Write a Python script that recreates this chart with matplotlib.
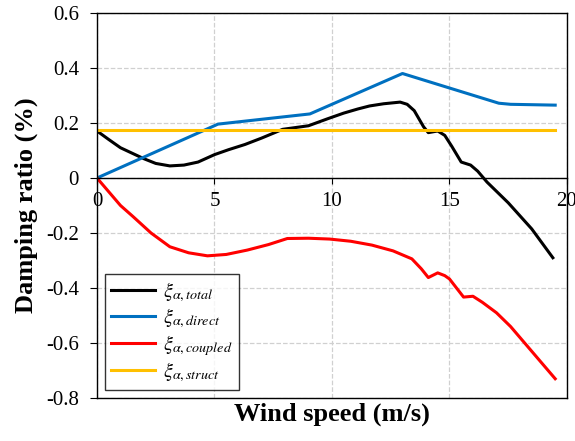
import matplotlib.pyplot as plt

plt.rcParams['font.family'] = ['Liberation Serif', 'DejaVu Serif']
plt.rcParams['mathtext.fontset'] = 'stix'

# wind speed (m/s) / damping ratio (%)
ws_total = [0, 0.5, 1.0, 1.5, 2.0, 2.5, 3.1, 3.7, 4.3, 5.0, 5.6, 6.3, 7.0, 7.9, 9.0, 9.8, 10.5,
            11.1, 11.6, 12.2, 12.9, 13.2, 13.5, 13.9, 14.1, 14.5, 14.8, 15.1, 15.5, 15.9, 16.2,
            16.6, 17.5, 18.5, 19.4]
dr_total = [0.171, 0.14, 0.11, 0.09, 0.07, 0.053, 0.044, 0.047, 0.058, 0.085, 0.103, 0.122, 0.145,
            0.177, 0.19, 0.215, 0.236, 0.251, 0.262, 0.27, 0.276, 0.268, 0.245, 0.186, 0.165,
            0.171, 0.155, 0.115, 0.058, 0.047, 0.025, -0.015, -0.09, -0.185, -0.29]

ws_direct = [0, 5.15, 9.06, 13.0, 17.1, 17.6, 19.5]
dr_direct = [0, 0.196, 0.233, 0.38, 0.272, 0.268, 0.265]

ws_coupled = [0, 0.55, 1.0, 1.53, 2.3, 3.1, 3.9, 4.7, 5.5, 6.4, 7.3, 8.1, 9.0, 9.9, 10.8, 11.7,
              12.6, 13.4, 13.8, 14.1, 14.5, 14.8, 15.0, 15.3, 15.6, 16.0, 16.4, 17.0, 17.6,
              18.1, 18.8, 19.5]
dr_coupled = [0, -0.055, -0.1, -0.14, -0.2, -0.25, -0.272, -0.283, -0.278, -0.262, -0.242, -0.22,
              -0.219, -0.222, -0.23, -0.244, -0.265, -0.294, -0.33, -0.362, -0.345, -0.355,
              -0.367, -0.4, -0.433, -0.43, -0.452, -0.49, -0.54, -0.59, -0.66, -0.73]

ws_struct = [0, 19.5]
dr_struct = [0.175, 0.175]

labels = [r'$\xi_{\alpha,total}$', r'$\xi_{\alpha,direct}$',
          r'$\xi_{\alpha,coupled}$', r'$\xi_{\alpha,struct}$']

fig = plt.figure(figsize=(5.75, 4.41), dpi=100)
ax = fig.add_axes([0.1687, 0.0975, 0.8173, 0.873])

lw = 2.2
ax.plot(ws_total, dr_total, color='black', lw=lw, label=labels[0])
ax.plot(ws_direct, dr_direct, color='#0070C0', lw=lw, label=labels[1])
ax.plot(ws_coupled, dr_coupled, color='#FF0000', lw=lw, label=labels[2])
ax.plot(ws_struct, dr_struct, color='#FFC000', lw=lw, label=labels[3])

ax.set_xlim(0, 20)
ax.set_ylim(-0.8, 0.6)
ax.set_xticks([0, 5, 10, 15, 20])
ax.set_yticks([-0.8, -0.6, -0.4, -0.2, 0, 0.2, 0.4, 0.6])
ax.set_yticklabels(['-0.8', '-0.6', '-0.4', '-0.2', '0', '0.2', '0.4', '0.6'])
ax.grid(True, color='#d0d0d0', linestyle='--', linewidth=0.9)
ax.set_axisbelow(True)

ax.spines['bottom'].set_position(('data', 0))
for s in ['left', 'top', 'right', 'bottom']:
    ax.spines[s].set_linewidth(1.0)
# bottom frame edge
ax.plot([0, 1], [0, 0], transform=ax.transAxes, color='black', lw=1.0, clip_on=False)

ax.tick_params(axis='y', direction='out', length=5, labelsize=15, pad=8)
ax.tick_params(axis='x', direction='out', length=4, labelsize=15, pad=6)

ax.set_xlabel('Wind speed (m/s)', fontsize=19, fontweight='bold')
ax.xaxis.set_label_coords(0.5, -0.012)
ax.set_ylabel('Damping ratio (%)', fontsize=19, fontweight='bold', labelpad=6)

leg = ax.legend(loc='lower left', bbox_to_anchor=(0.0, 0.0), fontsize=14.5,
                frameon=True, fancybox=False, edgecolor='black', handlelength=2.2,
                handletextpad=0.4, labelspacing=0.12, borderpad=0.3, borderaxespad=0.4)
leg.get_frame().set_linewidth(1.0)

fig.savefig('out.png', dpi=100)
